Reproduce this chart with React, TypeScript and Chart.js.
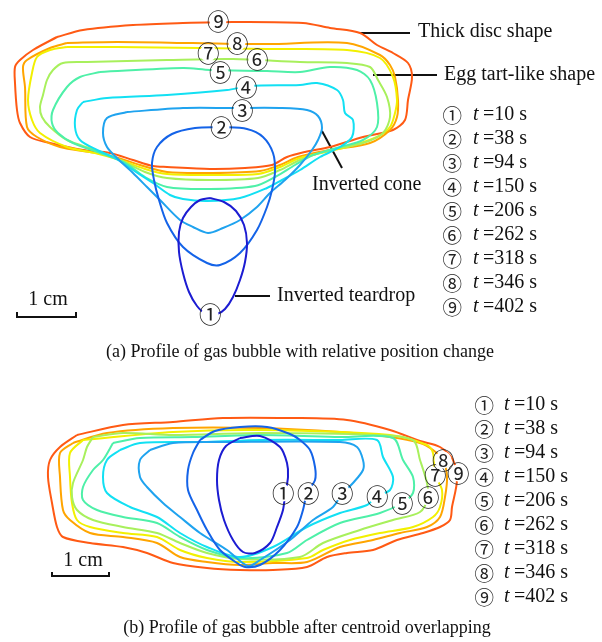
import { useEffect, useRef } from "react";
import { Chart, registerables } from "chart.js";
Chart.register(...registerables);

type P = [number, number];

// Units: image-scale units (1 cm scale bar = ~59 units), y grows downward
const times = [10, 38, 94, 150, 206, 262, 318, 346, 402];
const marks = ["①", "②", "③", "④", "⑤", "⑥", "⑦", "⑧", "⑨"];
const colors = ["#1c1cd2", "#1463e8", "#1fa3ef", "#12e0f3", "#4ef0a8", "#a8f05c", "#f2f000", "#ffa500", "#ff5a14"];

// ---- Panel (a): relative position change ----
const a1: P[] = [[210,198],[224,202],[236,211],[244,225],[247,243],[245,262],[240,280],[233,297],[225,309],[217,314],[205,313],[197,306],[189,292],[183,273],[179,252],[179,232],[183,218],[191,207],[200,200],[210,198]];
const a2: P[] = [[220,127],[247,129],[263,137],[273,153],[275,172],[272,190],[267,207],[257,230],[240,253],[220,265],[207,263],[183,247],[167,223],[159,200],[154,180],[152,163],[157,147],[172,134],[195,128],[220,127]];
const a3: P[] = [[127,112],[183,108],[233,108],[280,108],[307,110],[318,116],[322,128],[318,140],[312,150],[300,165],[285,180],[270,193],[257,207],[240,220],[223,228],[208,233],[193,227],[180,220],[160,200],[147,187],[133,173],[117,158],[107,147],[103,133],[107,118],[127,112]];
const a4: P[] = [[83,102],[107,98],[167,95],[227,90],[250,86],[300,85],[317,83],[337,90],[343,100],[345,113],[353,120],[352,137],[340,147],[320,157],[300,170],[282,180],[267,188],[240,198],[207,201],[183,199],[170,195],[153,183],[133,170],[113,157],[97,150],[80,140],[75,127],[77,110],[83,102]];
const a5: P[] = [[100,72],[183,68],[210,70],[267,71],[300,72],[330,67],[357,70],[370,80],[377,103],[377,127],[363,140],[340,147],[313,155],[295,165],[275,177],[255,186],[210,189],[167,187],[145,177],[125,163],[100,153],[73,143],[58,133],[52,123],[53,110],[67,87],[80,77],[100,72]];
const a6: P[] = [[87,62],[167,60],[233,59],[300,62],[347,63],[370,67],[378,80],[387,97],[390,117],[383,133],[363,143],[330,150],[300,160],[280,170],[258,178],[210,180],[167,178],[145,172],[120,160],[95,150],[67,140],[50,127],[42,117],[40,107],[43,95],[47,80],[53,70],[63,63],[87,62]];
const a7: P[] = [[67,47],[117,47],[200,48],[267,49],[347,50],[380,58],[393,77],[397,100],[395,113],[390,127],[377,137],[347,147],[300,158],[280,167],[258,174],[210,175],[167,174],[145,169],[120,160],[95,153],[67,147],[40,133],[32,120],[28,100],[32,73],[37,57],[50,50],[67,47]];
const a8: P[] = [[67,43],[117,42],[193,43],[267,44],[347,43],[380,55],[390,65],[395,77],[398,100],[397,117],[390,130],[370,143],[330,150],[298,157],[280,165],[260,171],[210,173],[167,172],[140,165],[115,157],[90,152],[60,147],[37,137],[27,127],[25,87],[23,67],[27,60],[50,48],[67,43]];
const a9: P[] = [[57,37],[83,30],[133,25],[183,23],[233,22],[303,23],[330,28],[360,33],[377,45],[393,53],[408,63],[412,77],[408,100],[405,120],[393,130],[363,137],[330,147],[305,152],[287,157],[272,165],[245,168],[210,169],[167,167],[153,166],[133,160],[110,153],[83,150],[50,143],[30,137],[20,123],[17,110],[15,83],[15,67],[20,60],[33,50],[57,37]];
const aMarkPos: P[] = [[210,314],[221,127],[242,110],[246,87],[220,72],[257,59],[208,53],[237,43],[218,21]];

// ---- Panel (b): centroid overlapping ----
const b1: P[] = [[240,438],[260,436],[280,447],[287,463],[288,477],[285,495],[283,510],[277,527],[270,543],[255,553],[243,552],[233,540],[224,520],[219,500],[217,480],[219,460],[226,446],[240,438]];
const b2: P[] = [[200,440],[215,431],[240,427],[267,427],[290,434],[300,440],[310,450],[315,467],[315,480],[307,493],[303,510],[297,527],[280,550],[260,565],[245,567],[237,563],[220,550],[207,530],[197,510],[188,490],[188,470],[193,453],[200,440]];
const b3: P[] = [[150,450],[173,443],[223,442],[340,442],[357,447],[363,460],[363,470],[353,483],[342,494],[333,507],[313,520],[290,540],[260,560],[248,566],[227,550],[200,533],[180,517],[163,503],[147,487],[140,477],[140,460],[150,450]];
const b4: P[] = [[120,450],[140,443],[207,442],[260,440],[340,440],[377,440],[383,457],[393,477],[390,490],[377,496],[367,505],[340,513],[307,527],[273,547],[240,557],[207,547],[180,533],[157,517],[130,507],[107,493],[103,477],[107,460],[120,450]];
const b5: P[] = [[113,443],[140,438],[193,437],[260,435],[340,437],[393,438],[403,460],[413,477],[413,493],[402,503],[380,513],[340,523],[307,540],[287,553],[240,558],[207,550],[180,537],[157,523],[123,517],[97,510],[83,500],[83,487],[93,470],[103,460],[113,443]];
const b6: P[] = [[93,437],[123,433],[173,435],[260,433],[373,435],[413,440],[420,460],[427,483],[428,497],[420,512],[393,520],[360,530],[323,543],[300,557],[240,559],[207,553],[180,543],[157,533],[123,527],[93,520],[77,510],[72,497],[73,483],[83,460],[87,447],[93,437]];
const b7: P[] = [[83,440],[173,432],[260,430],[390,435],[427,445],[433,453],[435,475],[442,490],[440,507],[433,517],[413,527],[380,533],[350,540],[323,550],[307,558],[240,562],[207,558],[180,550],[157,537],[123,533],[90,527],[77,520],[72,503],[70,477],[70,453],[83,440]];
const b8: P[] = [[73,443],[107,433],[173,428],[260,428],[340,432],[390,437],[420,443],[433,450],[443,460],[447,477],[445,497],[440,517],[427,527],[400,533],[373,540],[340,547],[307,562],[273,563],[240,565],[207,562],[180,557],[157,543],[123,537],[90,533],[70,520],[63,510],[60,477],[60,453],[73,443]];
const b9: P[] = [[77,435],[123,425],[173,422],[223,418],[290,418],[347,420],[390,430],[420,441],[440,447],[453,460],[457,480],[452,507],[450,520],[440,527],[423,533],[397,540],[373,550],[347,553],[327,557],[307,567],[273,570],[240,570],[207,568],[173,563],[147,553],[123,547],[90,543],[63,537],[57,527],[52,503],[48,477],[50,460],[60,447],[77,435]];
const bMarkPos: P[] = [[283,493],[308,493],[342,493],[377,496],[402,503],[428,497],[435,475],[443,460],[458,473]];

// ---- annotations ----
const leaders: P[][] = [
  [[360,33],[410,33]],
  [[373,75],[437,75]],
  [[322,131],[342,168]],
  [[235,296],[270,296]],
];
const scaleBarA: P[] = [[17,312],[17,317],[76,317],[76,312]];
const scaleBarB: P[] = [[52,572],[52,576],[109,576],[109,572]];
const shapeNotes: { text: string; at: P }[] = [
  { text: "Thick disc shape", at: [418, 32] },
  { text: "Egg tart-like shape", at: [444, 75] },
  { text: "Inverted cone", at: [312, 185] },
  { text: "Inverted teardrop", at: [277, 296] },
];
const legendA = { markX: 452, tX: 473, eqX: 483, y0: 115, dy: 24 };
const legendB = { markX: 484, tX: 504, eqX: 514, y0: 405, dy: 24 };
const captionA = { text: "(a) Profile of gas bubble with relative position change", at: [300, 352] as P };
const captionB = { text: "(b) Profile of gas bubble after centroid overlapping", at: [307, 628] as P };
const cmA: P = [48, 300];
const cmB: P = [83, 561];

const W = 602;
const H = 642;
const MARK_FONT = "'Noto Sans CJK JP'";
const SERIF = "'Liberation Serif'";

const line = (pts: P[], color: string, width = 2, tension = 0.3) => ({
  data: pts.map(([x, y]) => ({ x, y })),
  borderColor: color,
  borderWidth: width,
  showLine: true,
  pointRadius: 0,
  tension,
  fill: false,
});

const textPlugin = {
  id: "texts",
  afterDatasetsDraw(chart: any) {
    const ctx = chart.ctx as CanvasRenderingContext2D;
    const X = (v: number) => chart.scales.x.getPixelForValue(v);
    const Y = (v: number) => chart.scales.y.getPixelForValue(v);
    ctx.save();
    const serif = `${SERIF}, 'Times New Roman', serif`;
    const markFont = `${MARK_FONT}, 'DejaVu Sans', sans-serif`;
    const drawMark = (i: number, p: P, size: number, bg: number) => {
      const cx = X(p[0]);
      const cy = Y(p[1]);
      if (bg > 0) {
        ctx.fillStyle = "#ffffff";
        ctx.beginPath();
        ctx.arc(cx, cy, bg, 0, Math.PI * 2);
        ctx.fill();
      }
      ctx.font = `${size}px ${markFont}`;
      ctx.textAlign = "left";
      ctx.textBaseline = "alphabetic";
      const mm = ctx.measureText(marks[i]);
      const gx = cx - (mm.actualBoundingBoxRight - mm.actualBoundingBoxLeft) / 2;
      const gy = cy + (mm.actualBoundingBoxAscent - mm.actualBoundingBoxDescent) / 2;
      ctx.fillStyle = "#222222";
      ctx.fillText(marks[i], gx, gy);
    };
    aMarkPos.forEach((p, i) => drawMark(i, p, 22.5, 8.5));
    bMarkPos.forEach((p, i) => drawMark(i, p, 22.5, 8.5));

    const legend = (L: any) => {
      times.forEach((t, i) => {
        const y = L.y0 + i * L.dy;
        drawMark(i, [L.markX, y], 19.5, 0);
        ctx.fillStyle = "#111111";
        ctx.textAlign = "left";
        ctx.textBaseline = "middle";
        ctx.font = `italic 20px ${serif}`;
        ctx.fillText("t", X(L.tX), Y(y));
        ctx.font = `20px ${serif}`;
        ctx.fillText(`=${t} s`, X(L.eqX), Y(y));
      });
    };
    legend(legendA);
    legend(legendB);

    ctx.fillStyle = "#111111";
    ctx.textBaseline = "middle";
    ctx.font = `20px ${serif}`;
    ctx.textAlign = "left";
    shapeNotes.forEach((n) => ctx.fillText(n.text, X(n.at[0]), Y(n.at[1])));
    ctx.textAlign = "center";
    ctx.fillText("1 cm", X(cmA[0]), Y(cmA[1]));
    ctx.fillText("1 cm", X(cmB[0]), Y(cmB[1]));
    ctx.font = `18px ${serif}`;
    ctx.fillText(captionA.text, X(captionA.at[0]), Y(captionA.at[1]));
    ctx.fillText(captionB.text, X(captionB.at[0]), Y(captionB.at[1]));
    ctx.restore();
  },
};

export default function App() {
  const ref = useRef<HTMLCanvasElement>(null);
  useEffect(() => {
    document.body.style.margin = "0";
    const canvas = ref.current!;
    const aC = [a1, a2, a3, a4, a5, a6, a7, a8, a9];
    const bC = [b1, b2, b3, b4, b5, b6, b7, b8, b9];
    const datasets: any[] = [];
    aC.forEach((c, i) => datasets.push(line(c, colors[i])));
    bC.forEach((c, i) => datasets.push(line(c, colors[i])));
    leaders.forEach((l) => datasets.push(line(l, "#111111", 2, 0)));
    datasets.push(line(scaleBarA, "#111111", 2, 0));
    datasets.push(line(scaleBarB, "#111111", 2, 0));
    const chart = new Chart(canvas, {
      type: "scatter",
      data: { datasets },
      options: {
        animation: false,
        responsive: false,
        maintainAspectRatio: false,
        events: [],
        layout: { padding: 0 },
        plugins: { legend: { display: false }, tooltip: { enabled: false } },
        scales: {
          x: { type: "linear", min: 0, max: W, display: false },
          y: { type: "linear", min: 0, max: H, reverse: true, display: false },
        },
      },
      plugins: [textPlugin],
    } as any);
    let alive = true;
    const fonts: any = (document as any).fonts;
    if (fonts && fonts.load) {
      Promise.all([
        fonts.load(`20px ${MARK_FONT}`, "①②③④⑤⑥⑦⑧⑨"),
        fonts.load(`20px ${SERIF}`, "Thick"),
        fonts.load(`italic 20px ${SERIF}`, "t"),
      ])
        .catch(() => null)
        .then(() => {
          if (alive) chart.draw();
        });
    }
    return () => {
      alive = false;
      chart.destroy();
    };
  }, []);
  return <canvas ref={ref} width={W} height={H} style={{ display: "block" }} />;
}
